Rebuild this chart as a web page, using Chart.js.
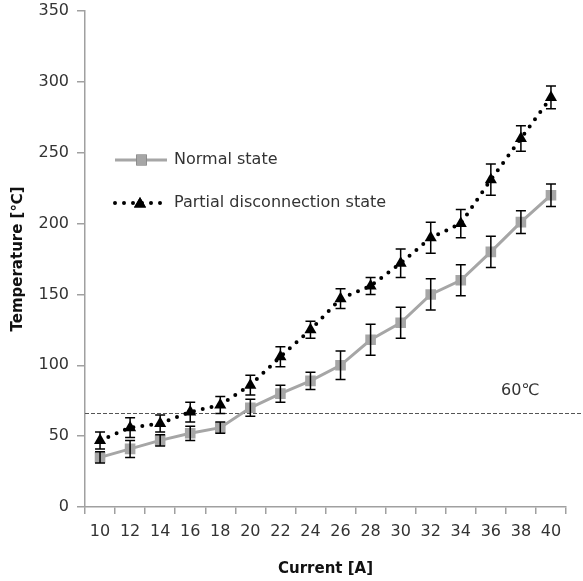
<!DOCTYPE html>
<html>
<head>
<meta charset="utf-8">
<script src="https://cdn.jsdelivr.net/npm/chart.js@4/dist/chart.umd.min.js"></script>
<style>
  body { margin: 0; background: #fff; }
  canvas { display: block; }
</style>
</head>
<body>
<canvas id="temp-chart" width="583" height="581"></canvas>
<script>
// data
const currents = ['10', '12', '14', '16', '18', '20', '22', '24', '26', '28', '30', '32', '34', '36', '38', '40'];
const normalTemp = [35, 41, 47, 52, 56, 70, 80, 89, 100, 118, 130, 150, 160, 180, 201, 220];
const normalErr = [4, 6, 4, 5, 4, 6, 6, 6, 10, 11, 11, 11, 11, 11, 8, 8];
const partialTemp = [47, 56, 59, 67, 72, 86, 106, 125, 147, 156, 172, 190, 200, 231, 260, 289];
const partialErr = [6, 7, 6, 7, 6, 7, 7, 6, 7, 6, 10, 11, 10, 11, 9, 8];
const thresholdValue = 66;
const thresholdLabel = '60℃';

const FONT = 'DejaVu Sans';
const GRAY = '#a6a6a6';
const AXIS = '#a0a0a0';

// error bars, drawn from the arrays through the scales
const errorBars = {
    id: 'errorBars',
    afterDatasetsDraw(chart) {
        const ctx = chart.ctx;
        const x = chart.scales.x, y = chart.scales.y;
        const sets = [[normalTemp, normalErr], [partialTemp, partialErr]];
        ctx.save();
        ctx.strokeStyle = '#000';
        ctx.lineWidth = 1.5;
        sets.forEach(function(s){
            s[0].forEach(function(v, i){
                const px = x.getPixelForValue(i);
                const top = y.getPixelForValue(v + s[1][i]);
                const bot = y.getPixelForValue(v - s[1][i]);
                ctx.beginPath();
                ctx.moveTo(px, top); ctx.lineTo(px, bot);
                ctx.moveTo(px - 5, top); ctx.lineTo(px + 5, top);
                ctx.moveTo(px - 5, bot); ctx.lineTo(px + 5, bot);
                ctx.stroke();
            });
        });
        ctx.restore();
    }
};

// dashed reference line + label, and the legend inside the plot
const extras = {
    id: 'extras',
    beforeDatasetsDraw(chart) {
        const ctx = chart.ctx;
        const yy = Math.round(chart.scales.y.getPixelForValue(thresholdValue)) + 0.5;
        ctx.save();
        ctx.strokeStyle = '#555';
        ctx.lineWidth = 1;
        ctx.setLineDash([4, 2]);
        ctx.beginPath();
        ctx.moveTo(chart.chartArea.left, yy);
        ctx.lineTo(chart.width, yy);
        ctx.stroke();
        ctx.restore();
        ctx.save();
        ctx.fillStyle = '#333';
        ctx.font = '16px "' + FONT + '"';
        ctx.textBaseline = 'middle';
        ctx.fillText(thresholdLabel, 501, yy - 23);
        ctx.restore();
    },
    afterDraw(chart) {
        const ctx = chart.ctx;
        ctx.save();
        // normal state
        ctx.strokeStyle = GRAY;
        ctx.lineWidth = 3;
        ctx.beginPath();
        ctx.moveTo(115, 160); ctx.lineTo(167, 160);
        ctx.stroke();
        Chart.helpers.drawPoint(ctx, {pointStyle: 'rect', radius: 7.5, borderWidth: 0}, 141.5, 160);
        ctx.fillStyle = GRAY;
        ctx.fill();
        // partial state
        ctx.strokeStyle = '#000';
        ctx.lineWidth = 4;
        ctx.lineCap = 'round';
        ctx.setLineDash([0, 9]);
        ctx.beginPath();
        ctx.moveTo(115, 203); ctx.lineTo(165, 203);
        ctx.stroke();
        ctx.setLineDash([]);
        ctx.fillStyle = '#000';
        Chart.helpers.drawPoint(ctx, {pointStyle: 'triangle', radius: 7, borderWidth: 0}, 140, 204);
        ctx.fill();

        ctx.fillStyle = '#333';
        ctx.font = '16px "' + FONT + '"';
        ctx.textBaseline = 'middle';
        ctx.fillText('Normal state', 174, 160);
        ctx.fillText('Partial disconnection state', 174, 203);
        ctx.restore();
    }
};

const data = {
    labels: currents,
    datasets: [{
        label: 'Normal state',
        data: normalTemp,
        borderColor: GRAY,
        backgroundColor: GRAY,
        borderWidth: 3,
        pointStyle: 'rect',
        pointRadius: 7.5,
        pointBorderWidth: 0,
        pointBackgroundColor: GRAY,
        tension: 0
    }, {
        label: 'Partial disconnection state',
        data: partialTemp,
        borderColor: '#000',
        backgroundColor: '#000',
        borderWidth: 4,
        borderDash: [0, 9],
        borderCapStyle: 'round',
        pointStyle: 'triangle',
        pointRadius: 7,
        pointBorderWidth: 0,
        pointBackgroundColor: '#000',
        tension: 0
    }]
};

const options = {
    responsive: false,
    animation: false,
    layout: { padding: { top: 11, right: 17, left: 0, bottom: 0 } },
    plugins: {
        legend: { display: false },
        tooltip: { enabled: false }
    },
    scales: {
        x: {
            type: 'category',
            offset: true,
            grid: { offset: true, drawOnChartArea: false, drawTicks: true, tickLength: 7, color: AXIS, lineWidth: 1.5 },
            border: { color: AXIS, width: 1.5 },
            ticks: { color: '#333', font: { family: FONT, size: 16 }, padding: 8, maxRotation: 0, autoSkip: false },
            title: { display: true, text: 'Current [A]', color: '#111', font: { family: FONT, size: 15, weight: 'bold' }, padding: { top: 0, bottom: 3 } },
            afterFit(scale) { scale.height = 74; scale.paddingLeft = 0; scale.paddingRight = 0; }
        },
        y: {
            min: 0,
            max: 350,
            grid: { drawOnChartArea: false, drawTicks: true, tickLength: 8, color: AXIS, lineWidth: 1.5 },
            border: { color: AXIS, width: 1.5 },
            ticks: { stepSize: 50, color: '#333', font: { family: FONT, size: 16 }, padding: 8 },
            title: { display: true, text: 'Temperature [℃]', color: '#111', font: { family: FONT, size: 15, weight: 'bold' }, padding: { top: 9, bottom: 0 } },
            afterFit(scale) { scale.width = 85; scale.paddingTop = 0; scale.paddingBottom = 0; }
        }
    }
};

let chartEl = document.getElementById('temp-chart').getContext('2d');
let tempChart = new Chart(chartEl, {
    type: 'line',
    data: data,
    options: options,
    plugins: [extras, errorBars]
});
</script>
</body>
</html>
